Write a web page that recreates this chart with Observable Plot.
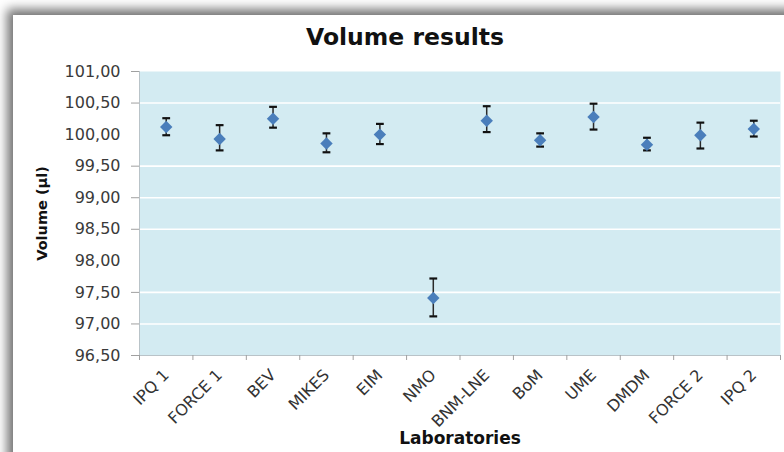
<!DOCTYPE html>
<html>
<head>
<meta charset="utf-8">
<script src="https://cdn.jsdelivr.net/npm/d3@7"></script>
<script src="https://cdn.jsdelivr.net/npm/@observablehq/plot@0.6"></script>
<style>
  html, body { margin: 0; padding: 0; background: #ffffff; }
  #wrap { position: relative; width: 784px; height: 452px; overflow: hidden; background: #ffffff; }
  #panel { position: absolute; left: 13px; top: 15px; width: 790px; height: 460px; background: #ffffff;
           box-shadow: -6px -6px 10px rgba(0,0,0,0.55); }
  #chart { position: absolute; left: 0; top: 0; }
</style>
</head>
<body>
<div id="wrap"><div id="panel"></div><div id="chart"></div></div>
<script>
// ---- data ----
const laboratories = ["IPQ 1","FORCE 1","BEV","MIKES","EIM","NMO","BNM-LNE","BoM","UME","DMDM","FORCE 2","IPQ 2"];
const volume = [100.12, 99.93, 100.25, 99.86, 100.00, 97.41, 100.22, 99.91, 100.28, 99.84, 99.99, 100.09];
const upper  = [100.26, 100.15, 100.44, 100.02, 100.17, 97.72, 100.45, 100.02, 100.49, 99.95, 100.19, 100.22];
const lower  = [99.99, 99.75, 100.11, 99.72, 99.85, 97.12, 100.04, 99.81, 100.08, 99.75, 99.78, 99.97];
const yTickLabels = [96.5, 97, 97.5, 98, 98.5, 99, 99.5, 100, 100.5, 101];
const yTickMarks = [96.5, 97, 97.5, 98.5, 99, 99.5, 100.5, 101];
const gridLines = [97, 97.5, 98.5, 99, 99.5, 100.5];

const data = laboratories.map((lab, i) => ({lab, pos: i + 0.5, volume: volume[i], upper: upper[i], lower: lower[i]}));
const centers = data.map(d => d.pos);
const bounds = d3.range(laboratories.length + 1);

const capSymbol = {
  draw(context, size) {
    const w = Math.sqrt(size);
    context.moveTo(-w / 2, 0);
    context.lineTo(w / 2, 0);
  }
};

const font = "'DejaVu Sans', Verdana, sans-serif";

const chart = Plot.plot({
  width: 784,
  height: 452,
  marginLeft: 139,
  marginRight: 4,
  marginTop: 71,
  marginBottom: 97,
  style: {background: "transparent", fontFamily: font},
  x: {type: "linear", domain: [0, laboratories.length]},
  y: {domain: [96.5, 101]},
  marks: [
    Plot.frame({fill: "#d3ebf2", stroke: null}),
    Plot.ruleY(gridLines, {stroke: "#ffffff", strokeWidth: 1.6}),
    Plot.ruleX([0], {stroke: "#b9c3c8", strokeWidth: 1}),
    Plot.ruleY([96.5], {stroke: "#b9c3c8", strokeWidth: 1.2}),
    Plot.axisY(yTickMarks, {tickSize: 8, tickFormat: () => "", stroke: "#a0a0a0", label: null}),
    Plot.axisY(yTickLabels, {tickSize: 0, tickPadding: 19, fontSize: 16, fill: "#3a3a3a",
      tickFormat: d => d.toFixed(2).replace(".", ","), label: null}),
    Plot.axisX(bounds, {tickSize: 5, tickFormat: () => "", stroke: "#a0a0a0", label: null}),
    Plot.axisX(centers, {tickSize: 0, tickPadding: 17, tickRotate: -45, fontSize: 16, fill: "#333333",
      tickFormat: d => laboratories[Math.round(d - 0.5)], label: null}),
    Plot.ruleX(data, {x: "pos", y1: "lower", y2: "upper", stroke: "#2a2a2a", strokeWidth: 1.5}),
    Plot.dot(data, {x: "pos", y: "upper", symbol: capSymbol, r: 4.4, stroke: "#111111", strokeWidth: 2.2}),
    Plot.dot(data, {x: "pos", y: "lower", symbol: capSymbol, r: 4.4, stroke: "#111111", strokeWidth: 2.2}),
    Plot.dot(data, {x: "pos", y: "volume", symbol: "diamond2", r: 5.6, fill: "#4a7ebb", stroke: null}),
    Plot.text(["Volume results"], {frameAnchor: "top", dx: -55, dy: -43, fontSize: 23.5, fontWeight: "bold", fill: "#111111"}),
    Plot.text(["Volume (µl)"], {frameAnchor: "left", textAnchor: "middle", dx: -97, rotate: -90, fontSize: 14.5, fontWeight: "bold", fill: "#111111"}),
    Plot.text(["Laboratories"], {frameAnchor: "bottom", dy: 88, fontSize: 17, fontWeight: "bold", fill: "#111111"})
  ]
});
document.getElementById("chart").appendChild(chart);
</script>
</body>
</html>
